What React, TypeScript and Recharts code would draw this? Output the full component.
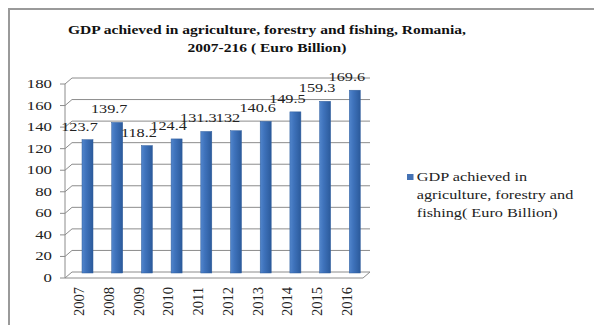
import React from "react";
import { BarChart, Bar, XAxis, YAxis, CartesianGrid } from "recharts";

const years = ["2007", "2008", "2009", "2010", "2011", "2012", "2013", "2014", "2015", "2016"];
const gdp = [123.7, 139.7, 118.2, 124.4, 131.3, 132, 140.6, 149.5, 159.3, 169.6];
const valueLabels = ["123.7", "139.7", "118.2", "124.4", "131.3", "132", "140.6", "149.5", "159.3", "169.6"];
const yTicks = [0, 20, 40, 60, 80, 100, 120, 140, 160, 180];
const titleLines = [
  "GDP achieved in agriculture, forestry and fishing, Romania,",
  "2007-216 ( Euro Billion)",
];
const seriesName = "GDP achieved in agriculture, forestry and fishing( Euro Billion)";
const legendLines = ["GDP achieved in", "agriculture, forestry and", "fishing( Euro Billion)"];

const data = years.map((y, i) => ({ year: y, value: gdp[i], label: valueLabels[i] }));

const FONT = "'Liberation Serif', 'Times New Roman', Times, serif";
const DEPTH_X = 7;
const DEPTH_Y = 6;

const GridLine = (props: any) => {
  const { x1, y1, x2 } = props;
  const isFloor = Math.abs(y1 - 270) < 1;
  const d = `M${x1},${y1} L${x1 + DEPTH_X},${y1 - DEPTH_Y} L${x2},${y1 - DEPTH_Y}`;
  return (
    <g>
      <path d={d} fill="none" stroke="#8c8c8c" strokeWidth={1} />
      {isFloor && (
        <path
          d={`M${x1},${y1} L${x2 - DEPTH_X},${y1} L${x2},${y1 - DEPTH_Y}`}
          fill="none"
          stroke="#8c8c8c"
          strokeWidth={1}
        />
      )}
    </g>
  );
};

const BarShape = (props: any) => {
  const { x, y, width, height } = props;
  const yy = y - 5;
  return (
    <g>
      <defs>
        <linearGradient id="barGrad" x1="0" y1="0" x2="1" y2="0">
          <stop offset="0%" stopColor="#5286cc" />
          <stop offset="35%" stopColor="#3f73bc" />
          <stop offset="100%" stopColor="#2b5a9b" />
        </linearGradient>
      </defs>
      <rect x={x} y={yy} width={width} height={height} fill="url(#barGrad)" stroke="#2f5d9c" strokeWidth={0.5} />
    </g>
  );
};

const ValueLabel = (props: any) => {
  const { x, y, width, index } = props;
  const cx = x + width / 2 - 8;
  const cy = y - 5 - 9;
  return (
    <text
      transform={`translate(${cx},${cy}) scale(1.3,1)`}
      x={0}
      y={0}
      textAnchor="middle"
      fontFamily={FONT}
      fontSize={12.5}
      fill="#222"
    >
      {valueLabels[index]}
    </text>
  );
};

const XTick = (props: any) => {
  const { x, y, payload } = props;
  const ax = x - 8 + 4.5;
  const ay = y + 1;
  return (
    <text
      x={ax}
      y={ay}
      transform={`rotate(-90 ${ax} ${ay})`}
      textAnchor="end"
      fontFamily={FONT}
      fontSize={14.5}
      fill="#222"
    >
      {payload.value}
    </text>
  );
};

const YTick = (props: any) => {
  const { x, y, payload } = props;
  return (
    <text
      transform={`translate(${x + 2},${y + 4}) scale(1.4,1)`}
      x={0}
      y={0}
      textAnchor="end"
      fontFamily={FONT}
      fontSize={12}
      fill="#222"
    >
      {payload.value}
    </text>
  );
};

export default function App() {
  return (
    <div style={{ position: "relative", width: 594, height: 317, background: "#fff" }}>
      <div
        style={{
          position: "absolute",
          left: 0,
          top: 0,
          width: 594,
          height: 317,
          borderLeft: "2px solid #9a9a9a",
          borderTop: "2px solid #9a9a9a",
          boxSizing: "border-box",
        }}
      />
      <div
        style={{
          position: "absolute",
          left: 0,
          top: 13,
          width: 518,
          textAlign: "center",
          fontFamily: FONT,
          fontWeight: "bold",
          fontSize: 13.5,
          lineHeight: "18px",
          color: "#111",
          transform: "scaleX(1.15)",
          transformOrigin: "259px 0px",
        }}
      >
        {titleLines.map((t, i) => (
          <div key={i}>{t}</div>
        ))}
      </div>
      <div style={{ position: "absolute", left: 0, top: 0 }}>
        <BarChart
          width={594}
          height={317}
          data={data}
          margin={{ top: 76, right: 232, bottom: 5, left: 17 }}
        >
          <CartesianGrid horizontal={GridLine as any} vertical={false} />
          <XAxis
            dataKey="year"
            padding={{ left: 8, right: 0 }}
            axisLine={false}
            tickLine={false}
            height={42}
            tick={XTick as any}
            interval={0}
          />
          <YAxis
            domain={[0, 180]}
            ticks={yTicks}
            width={40}
            axisLine={{ stroke: "#8c8c8c" }}
            tickLine={{ stroke: "#8c8c8c" }}
            tickSize={5}
            tickMargin={10}
            tick={YTick as any}
            interval={0}
          />
          <Bar
            dataKey="value"
            name={seriesName}
            barSize={11}
            shape={BarShape as any}
            label={ValueLabel as any}
            isAnimationActive={false}
          />
        </BarChart>
      </div>
      <div
        style={{
          position: "absolute",
          left: 399,
          top: 160,
          width: 190,
          fontFamily: FONT,
          fontSize: 12.5,
          lineHeight: "18px",
          color: "#222",
          transform: "scaleX(1.3)",
          transformOrigin: "0px 0px",
        }}
      >
        <span
          style={{
            position: "absolute",
            left: 0,
            top: 6,
            width: 5,
            height: 6,
            background: "#4472b4",
          }}
        />
        {legendLines.map((l, i) => (
          <div key={i} style={{ whiteSpace: "nowrap", marginLeft: 7.5 }}>{l}</div>
        ))}
      </div>
    </div>
  );
}
